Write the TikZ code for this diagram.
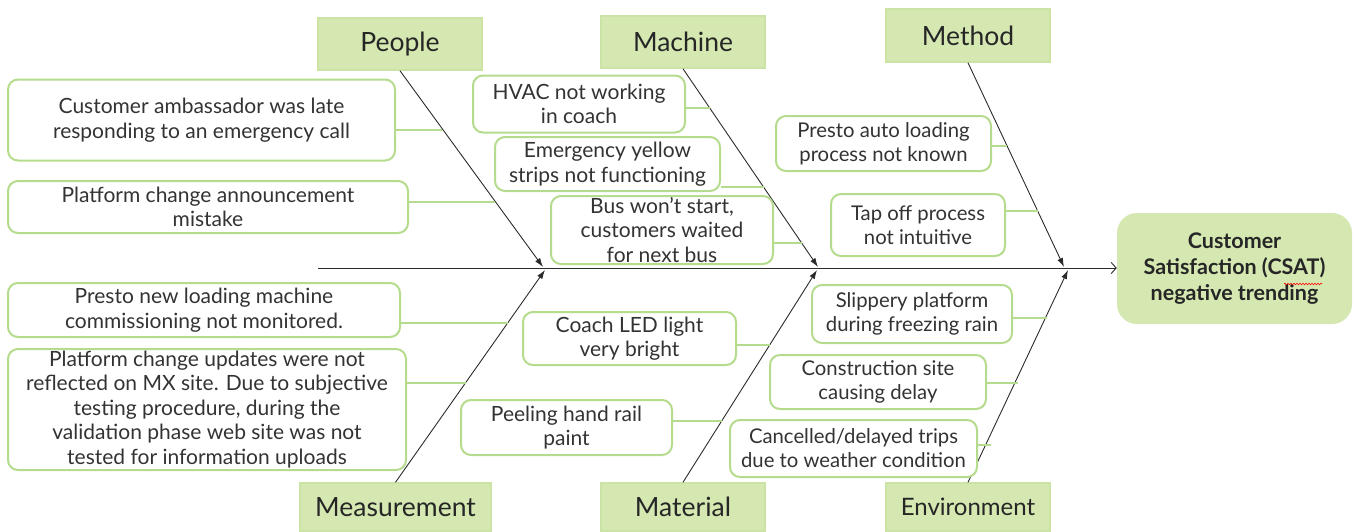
\documentclass[tikz,border=0pt]{standalone}
\usepackage{fontspec}
\setmainfont{Lato}
\usetikzlibrary{arrows.meta,decorations.pathmorphing}
\definecolor{catfill}{HTML}{D5E8B1}
\definecolor{catedge}{HTML}{CCE3A6}
\definecolor{effedge}{HTML}{B5DB8C}
\definecolor{txt}{HTML}{333333}
\definecolor{bonec}{HTML}{2B2B2B}
\tikzset{
 cat/.style={fill=catfill, draw=catedge, line width=1.5pt, text=black!85, inner sep=0pt, font=\fontsize{26.5}{30}\selectfont},
 eff/.style={fill=white, draw=effedge, line width=2pt, rounded corners=10pt, align=center, text=txt, inner sep=0pt, font=\fontsize{21}{24.5}\selectfont},
 effr/.style={eff, font=\fontsize{20.3}{24}\selectfont},
 conn/.style={draw=effedge, line width=2pt},
 bonel/.style={draw=bonec, line width=0.9pt, -{Latex[length=9pt,width=6pt]}},
}
\begin{document}
\begin{tikzpicture}[x=1pt,y=-1pt]
\useasboundingbox (0,0) rectangle (1354,531);
% categories
\node[cat, minimum width=164pt, minimum height=52pt] (people) at (400,44) {People};
\node[cat, minimum width=164pt, minimum height=52pt] (machine) at (683,42) {Machine};
\node[cat, minimum width=164pt, minimum height=53pt] (method) at (968,35.5) {Method};
\node[cat, minimum width=191pt, minimum height=48pt] (meas) at (395.5,507) {Measurement};
\node[cat, minimum width=164pt, minimum height=48pt] (material) at (683,507) {Material};
\node[cat, minimum width=164pt, minimum height=48pt, font=\fontsize{24}{28}\selectfont] (env) at (968,507) {Environment};
% effect
\node[fill=catfill, rounded corners=20pt, minimum width=235pt, minimum height=111pt, align=center, inner sep=0pt, text=black!85, font=\fontsize{21.5}{26}\bfseries] (csat) at (1234.5,268.5) {Customer\\Satisfaction (CSAT)\\negative trending};
% spine and bones
\coordinate (tail) at (318,268);
\draw[draw=bonec, line width=0.9pt, -{Straight Barb[length=5pt,width=11pt]}] (tail) -- (tail -| csat.west);
\coordinate (hP) at (543,267);
\coordinate (hM) at (818,267);
\coordinate (hT) at (1064,267);
\coordinate (hS) at (545,270);
\coordinate (hL) at (817,270);
\coordinate (hE) at (1068,270);
\draw[bonel] (people.south) -- (hP);
\draw[bonel] (machine.south) -- (hM);
\draw[bonel] (method.south) -- (hT);
\draw[bonel] (meas.north) -- (hS);
\draw[bonel] (material.north) -- (hL);
\draw[bonel] (env.north) -- (hE);
% cause boxes
\node[eff, minimum width=387pt, minimum height=81pt] (c1) at (201.5,120) {Customer ambassador was late\\responding to an emergency call};
\node[eff, minimum width=400pt, minimum height=52pt] (c2) at (208,207) {Platform change announcement\\mistake};
\node[eff, minimum width=212pt, minimum height=57pt] (c3) at (579,104) {HVAC not working\\in coach};
\node[eff, minimum width=225pt, minimum height=54pt] (c4) at (607.5,164) {Emergency yellow\\strips not functioning};
\node[eff, minimum width=222pt, minimum height=68pt] (c5) at (662,230) {Bus won’t start,\\customers waited\\for next bus};
\node[effr, minimum width=215pt, minimum height=55pt] (c6) at (883.5,143.5) {Presto auto loading\\process not known};
\node[effr, minimum width=174pt, minimum height=62pt] (c7) at (918,225) {Tap off process\\not intuitive};
\node[eff, minimum width=392pt, minimum height=54pt] (c8) at (204,310) {Presto new loading machine\\commissioning not monitored.};
\node[eff, minimum width=398pt, minimum height=121pt] (c9) at (207,409.5) {Platform change updates were not\\reflected on MX site. Due to subjective\\testing procedure, during the\\validation phase web site was not\\tested for information uploads};
\node[eff, minimum width=213pt, minimum height=53pt] (c10) at (629.5,338.5) {Coach LED light\\very bright};
\node[eff, minimum width=211pt, minimum height=55pt] (c11) at (566.5,427.5) {Peeling hand rail\\paint};
\node[effr, minimum width=200pt, minimum height=58pt] (c12) at (912,314) {Slippery platform\\during freezing rain};
\node[effr, minimum width=216pt, minimum height=54pt] (c13) at (878,382) {Construction site\\causing delay};
\node[effr, minimum width=247pt, minimum height=57pt] (c14) at (853.5,448.5) {Cancelled/delayed trips\\due to weather condition};
% attachment points on bones
\coordinate (b1) at (442,130);
\coordinate (b2) at (495,202);
\coordinate (b3) at (710,108);
\coordinate (b4) at (764,187);
\coordinate (b5) at (802,243);
\coordinate (b6) at (1007,146);
\coordinate (b7) at (1038,211);
\coordinate (b8) at (508,323);
\coordinate (b9) at (466,383);
\coordinate (b10) at (770,345);
\coordinate (b11) at (722,421);
\coordinate (b12) at (1047,318);
\coordinate (b13) at (1018,383);
\coordinate (b14) at (991,445);
\foreach \i in {1,...,14} {\draw[conn] (c\i.east |- b\i) -- (b\i);}
% spell-check squiggle
\coordinate (sq1) at (1284,284);
\coordinate (sq2) at (1322,284);
\draw[red, line width=0.6pt, decorate, decoration={snake, amplitude=0.8pt, segment length=3pt}] (sq1) -- (sq2);
\end{tikzpicture}
\end{document}
